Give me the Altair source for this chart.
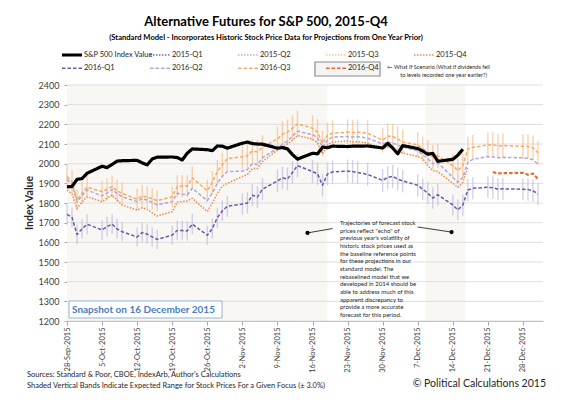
import altair as alt
import pandas as pd

# ---------------- data ----------------
dates = [
    "2015-09-28", "2015-09-29", "2015-09-30", "2015-10-01", "2015-10-02",
    "2015-10-05", "2015-10-06", "2015-10-07", "2015-10-08", "2015-10-09",
    "2015-10-12", "2015-10-13", "2015-10-14", "2015-10-15", "2015-10-16",
    "2015-10-19", "2015-10-20", "2015-10-21", "2015-10-22", "2015-10-23",
    "2015-10-26", "2015-10-27", "2015-10-28", "2015-10-29", "2015-10-30",
    "2015-11-02", "2015-11-03", "2015-11-04", "2015-11-05", "2015-11-06",
    "2015-11-09", "2015-11-10", "2015-11-11", "2015-11-12", "2015-11-13",
    "2015-11-16", "2015-11-17", "2015-11-18", "2015-11-19", "2015-11-20",
    "2015-11-23", "2015-11-24", "2015-11-25", "2015-11-27", "2015-11-30",
    "2015-12-01", "2015-12-02", "2015-12-03", "2015-12-04",
    "2015-12-07", "2015-12-08", "2015-12-09", "2015-12-10", "2015-12-11",
    "2015-12-14", "2015-12-15", "2015-12-16", "2015-12-17", "2015-12-18",
    "2015-12-21", "2015-12-22", "2015-12-23", "2015-12-24",
    "2015-12-28", "2015-12-29", "2015-12-30", "2015-12-31",
]

sp500 = [
    1882, 1884, 1920, 1924, 1951, 1987, 1980, 1996, 2013, 2015,
    2017, 2004, 1994, 2024, 2033, 2034, 2031, 2019, 2053, 2075,
    2071, 2066, 2090, 2089, 2079, 2104, 2110, 2102, 2100, 2099,
    2079, 2082, 2075, 2046, 2023, 2053, 2050, 2084, 2081, 2089,
    2087, 2089, 2089, 2090, 2080, 2103, 2080, 2050, 2092, 2077,
    2064, 2048, 2052, 2012, 2022, 2043, 2073,
]

f2015q4 = [
    1866, 1845, 1773, 1805, 1832, 1807, 1825, 1841, 1815, 1790,
    1764, 1776, 1768, 1750, 1734, 1756, 1805, 1807, 1810, 1824,
    1757, 1800, 1850, 1885, 1900,
    1935, 1945, 1975, 1975, 2010, 2070, 2085, 2100, 2120, 2143,
    2125, 2105, 2050, 2095, 2110, 2115, 2110, 2112, 2105, 2075,
    2085, 2080, 2065, 2054, 2037, 2025, 1990, 1965, 1960, 1900,
    1880, 1905, 1981,
]

f2016q1 = [
    1742, 1727, 1640, 1668, 1692, 1663, 1680, 1693, 1668, 1654,
    1627, 1650, 1642, 1628, 1615, 1637, 1660, 1660, 1658, 1693,
    1636, 1670, 1725, 1760, 1783,
    1795, 1800, 1840, 1830, 1870, 1912, 1928, 1922, 1955, 1990,
    1960, 1948, 1890, 1948, 1958, 1962, 1960, 1955, 1945, 1915,
    1930, 1935, 1922, 1912, 1890, 1870, 1850, 1825, 1842, 1790,
    1765, 1790, 1866, 1875, 1880, 1878, 1870, 1872, 1870, 1868,
    1862, 1845,
]

f2016q2 = [
    1920, 1895, 1807, 1838, 1866, 1836, 1852, 1869, 1848, 1832,
    1807, 1822, 1815, 1803, 1790, 1807, 1849, 1845, 1841, 1875,
    1812, 1850, 1900, 1935, 1960,
    1962, 1970, 2000, 1995, 2030, 2078, 2100, 2115, 2140, 2165,
    2148, 2130, 2083, 2120, 2135, 2138, 2135, 2138, 2130, 2100,
    2110, 2105, 2095, 2085, 2065, 2045, 2025, 2000, 2005, 1930,
    1905, 1930, 2007, 2022, 2036, 2034, 2030, 2032, 2030, 2028,
    2020, 1998,
]

f2016q3 = [
    1934, 1908, 1815, 1850, 1880, 1858, 1870, 1883, 1862, 1849,
    1819, 1836, 1830, 1822, 1812, 1832, 1884, 1886, 1886, 1928,
    1862, 1905, 1960, 1995, 2025,
    2035, 2040, 2065, 2060, 2083, 2126, 2150, 2160, 2180, 2203,
    2180, 2160, 2103, 2145, 2155, 2160, 2158, 2160, 2155, 2120,
    2140, 2138, 2125, 2110, 2095, 2075, 2060, 2035, 2040, 1990,
    1965, 1990, 2075, 2083, 2095, 2097, 2090, 2092, 2088, 2087,
    2080, 2055,
]

f2016q4_dates = ["2015-12-22", "2015-12-23", "2015-12-24", "2015-12-28",
                 "2015-12-29", "2015-12-30", "2015-12-31"]
f2016q4 = [1958, 1950, 1952, 1953, 1944, 1950, 1922]

band_start = ["2015-09-28T00:00:00", "2015-12-08T12:00:00"]
band_end = ["2015-11-19T00:00:00", "2015-12-16T12:00:00"]
range_pct = 0.03

y_ticks = list(range(1200, 2401, 100))
x_ticks = ["2015-09-28", "2015-10-05", "2015-10-12", "2015-10-19", "2015-10-26",
           "2015-11-02", "2015-11-09", "2015-11-16", "2015-11-23", "2015-11-30",
           "2015-12-07", "2015-12-14", "2015-12-21", "2015-12-28"]

series_names = ["S&P 500 Index Value", "2015-Q1", "2015-Q2", "2015-Q3", "2015-Q4",
                "2016-Q1", "2016-Q2", "2016-Q3", "2016-Q4"]
series_colors = ["#000000", "#7b68b5", "#b7b0de", "#f9c89b", "#f08a4b",
                 "#6b58a8", "#aea7d9", "#f8ab63", "#e9662c"]
series_dashes = [[1, 0], [1.5, 1.5], [1.5, 1.5], [1.5, 1.5], [1.5, 1.5],
                 [3.5, 2], [3.5, 2], [3.5, 2], [3.5, 2]]

pointer_dot_dates = ["2015-11-15T00:00:00", "2015-12-13T18:00:00"]
pointer_dot_values = [1648, 1652]
pointer_end_dates = ["2015-11-20T00:00:00", "2015-12-07T00:00:00"]
pointer_end_values = [1670, 1678]

note_lines = [
    "Trajectories of forecast stock",
    "prices reflect \"echo\" of",
    "previous year's volatility of",
    "historic stock prices used as",
    "the baseline reference points",
    "for these projections in our",
    "standard model.  The",
    "rebaselined model that we",
    "developed in 2014 should be",
    "able to address much of this",
    "apparent discrepancy to",
    "provide a more accurate",
    "forecast for this period.",
]


def to_dt(lst):
    return pd.to_datetime(lst, format="ISO8601")


# ---------------- tables ----------------
rows = []
for name, vals in [("S&P 500 Index Value", sp500), ("2015-Q4", f2015q4),
                   ("2016-Q1", f2016q1), ("2016-Q2", f2016q2), ("2016-Q3", f2016q3)]:
    for d, v in zip(dates, vals):
        rows.append({"date": d, "series": name, "value": v})
for d, v in zip(f2016q4_dates, f2016q4):
    rows.append({"date": d, "series": "2016-Q4", "value": v})
lines_df = pd.DataFrame(rows)
lines_df["date"] = to_dt(lines_df["date"])

eb_df = pd.DataFrame({"date": to_dt(dates), "q3": f2016q3, "q1": f2016q1})
bands_df = pd.DataFrame({"start": to_dt(band_start), "end": to_dt(band_end)})
grid_df = pd.DataFrame({"v": y_ticks})
ptr_df = pd.DataFrame({"d1": to_dt(pointer_dot_dates), "v1": pointer_dot_values,
                       "d2": to_dt(pointer_end_dates), "v2": pointer_end_values})
legend_df = pd.DataFrame({"series": series_names, "idx": list(range(len(series_names)))})
one = pd.DataFrame([{"k": 1}])

# ---------------- scales / axes ----------------
W, H = 476, 236
FONT = "Lato"


def dt(s):
    y, m, d = s.split("-")
    return alt.DateTime(year=int(y), month=int(m), date=int(d))


x_scale = alt.Scale(domain=[dt("2015-09-28"), dt("2016-01-01")])
y_scale = alt.Scale(domain=[1200, 2400], zero=False, nice=False)
x_axis = alt.Axis(values=[dt(s) for s in x_ticks], format="%-d-%b-%Y", labelAngle=270,
                  labelFont=FONT, labelFontSize=7.5, labelColor="#404040", tickSize=4,
                  tickColor="#a6a6a6", domainColor="#a6a6a6", labelPadding=2,
                  grid=False, title=None, labelOverlap=False, labelFlush=False)
y_axis = alt.Axis(values=y_ticks, format="d", grid=False, title=None, labelFont=FONT,
                  labelFontSize=9, labelColor="#404040", tickSize=3, tickColor="#a6a6a6",
                  domainColor="#a6a6a6", labelPadding=5)
color_scale = alt.Scale(domain=series_names, range=series_colors)
dash_scale = alt.Scale(domain=series_names, range=series_dashes)


def X(f):
    return alt.X(f, scale=x_scale, axis=x_axis)


def Y(f):
    return alt.Y(f, scale=y_scale, axis=y_axis)


# ---------------- layers ----------------
bands = alt.Chart(bands_df).mark_rect(color="#f8f7f3").encode(
    x=X("start:T"), x2="end:T", y=alt.value(0), y2=alt.value(H))

grid = alt.Chart(grid_df).mark_rule(color="#dedede", strokeWidth=1).encode(y=Y("v:Q"))

eb_q3 = alt.Chart(eb_df).transform_calculate(
    lo=f"datum.q3*(1-{range_pct})", hi=f"datum.q3*(1+{range_pct})"
).mark_rule(color="#f9b27a", opacity=0.6, strokeWidth=1.4).encode(
    x=X("date:T"), y=Y("lo:Q"), y2="hi:Q")

eb_q1 = alt.Chart(eb_df).transform_calculate(
    lo=f"datum.q1*(1-{range_pct})", hi=f"datum.q1*(1+{range_pct})"
).mark_rule(color="#b3acd9", opacity=0.55, strokeWidth=1.4).encode(
    x=X("date:T"), y=Y("lo:Q"), y2="hi:Q")


def series_line(names, width):
    return alt.Chart(lines_df).transform_filter(
        alt.FieldOneOfPredicate(field="series", oneOf=names)
    ).mark_line(strokeWidth=width, strokeJoin="round").encode(
        x=X("date:T"), y=Y("value:Q"),
        color=alt.Color("series:N", scale=color_scale, legend=None),
        strokeDash=alt.StrokeDash("series:N", scale=dash_scale, legend=None),
        detail="series:N")


proj = series_line(["2015-Q4", "2016-Q1", "2016-Q2", "2016-Q3"], 1.5)
whatif = series_line(["2016-Q4"], 2.2)
spx = series_line(["S&P 500 Index Value"], 3.2)

ptr_lines = alt.Chart(ptr_df).mark_rule(color="#262626", strokeWidth=0.9).encode(
    x=X("d1:T"), x2="d2:T", y=Y("v1:Q"), y2="v2:Q")
ptr_dots = alt.Chart(ptr_df).mark_circle(color="#000000", size=18, opacity=1).encode(
    x=X("d1:T"), y=Y("v1:Q"))

note = alt.Chart(one).mark_text(align="left", baseline="top", font=FONT, fontSize=6,
                                lineHeight=7.67, color="#262626").encode(
    x=alt.value(273), y=alt.value(135), text=alt.value(note_lines))

snap_box = alt.Chart(one).mark_rect(fill="#ffffff", stroke="#95b3d7", strokeWidth=1).encode(
    x=alt.value(2), x2=alt.value(155), y=alt.value(216), y2=alt.value(233))
snap_txt = alt.Chart(one).mark_text(align="left", baseline="middle", font=FONT, fontSize=10,
                                    fontWeight="bold", color="#4a7ebb").encode(
    x=alt.value(5), y=alt.value(224.5), text=alt.value("Snapshot on 16 December 2015"))

# legend (built from the series list, laid out in a 5-column grid)
leg_base = alt.Chart(legend_df).transform_calculate(
    col="datum.idx % 5", row="floor(datum.idx / 5)"
).transform_calculate(
    lx="-5 + 88 * datum.col", lx2="15 + 88 * datum.col", tx="17 + 88 * datum.col",
    ly="-30 + 13.3 * datum.row")
leg_box = alt.Chart(one).mark_rect(fill="#f5f5f5", stroke="#8c8c8c", strokeWidth=1.2).encode(
    x=alt.value(248), x2=alt.value(313), y=alt.value(-23), y2=alt.value(-9))
leg_rules = leg_base.mark_rule().encode(
    x=alt.X("lx:Q", scale=None), x2="lx2:Q", y=alt.Y("ly:Q", scale=None),
    color=alt.Color("series:N", scale=color_scale, legend=None),
    strokeDash=alt.StrokeDash("series:N", scale=dash_scale, legend=None),
    strokeWidth=alt.condition(alt.datum.series == "S&P 500 Index Value",
                              alt.value(3), alt.value(1.6)))
leg_text = leg_base.mark_text(align="left", baseline="middle", font=FONT, fontSize=7.5,
                              color="#262626").encode(
    x=alt.X("tx:Q", scale=None), y=alt.Y("ly:Q", scale=None), text="series:N")
whatif1 = alt.Chart(one).mark_text(align="left", baseline="middle", font=FONT, fontSize=5.6,
                                   color="#262626").encode(
    x=alt.value(320), y=alt.value(-18.3),
    text=alt.value("\u2190 What If Scenario (What if dividends fell"))
whatif2 = alt.Chart(one).mark_text(align="right", baseline="middle", font=FONT, fontSize=5.6,
                                   color="#262626").encode(
    x=alt.value(420), y=alt.value(-10),
    text=alt.value("to levels recorded one year earlier?)"))

title = alt.Chart(one).mark_text(align="center", baseline="middle", font=FONT, fontSize=13,
                                 fontWeight="bold", color="#000000").encode(
    x=alt.value(199), y=alt.value(-63),
    text=alt.value("Alternative Futures for S&P 500, 2015-Q4"))
subtitle = alt.Chart(one).mark_text(align="center", baseline="middle", font=FONT, fontSize=7.6,
                                    fontWeight="bold", color="#000000").encode(
    x=alt.value(199), y=alt.value(-47.5),
    text=alt.value("(Standard Model - Incorporates Historic Stock Price Data for Projections from One Year Prior)"))
ytitle = alt.Chart(one).mark_text(align="center", baseline="middle", font=FONT, fontSize=10.5,
                                  fontWeight="bold", angle=270, color="#262626").encode(
    x=alt.value(-37), y=alt.value(118), text=alt.value("Index Value"))
src1 = alt.Chart(one).mark_text(align="left", baseline="middle", font=FONT, fontSize=7.5,
                                color="#262626").encode(
    x=alt.value(-40), y=alt.value(290),
    text=alt.value("Sources: Standard & Poor, CBOE, IndexArb, Author's Calculations"))
src2 = alt.Chart(one).mark_text(align="left", baseline="middle", font=FONT, fontSize=7.5,
                                color="#262626").encode(
    x=alt.value(-40), y=alt.value(301),
    text=alt.value("Shaded Vertical Bands Indicate Expected Range for Stock Prices For a Given Focus (\u00b1 3.0%)"))
copy = alt.Chart(one).mark_text(align="right", baseline="middle", font=FONT, fontSize=10.5,
                                color="#262626").encode(
    x=alt.value(479), y=alt.value(299), text=alt.value("\u00a9 Political Calculations 2015"))

chart = alt.layer(
    bands, grid, eb_q3, eb_q1, proj, whatif, spx, ptr_lines, ptr_dots, note,
    snap_box, snap_txt, leg_box, leg_rules, leg_text, whatif1, whatif2,
    title, subtitle, ytitle, src1, src2, copy,
).properties(
    width=W, height=H,
    autosize=alt.AutoSizeParams(type="none"),
    padding={"left": 59, "top": 77, "right": 12, "bottom": 71},
    background="#ffffff",
).configure_view(stroke=None)

chart.save("out.html", embed_options={"renderer": "svg", "actions": False})
